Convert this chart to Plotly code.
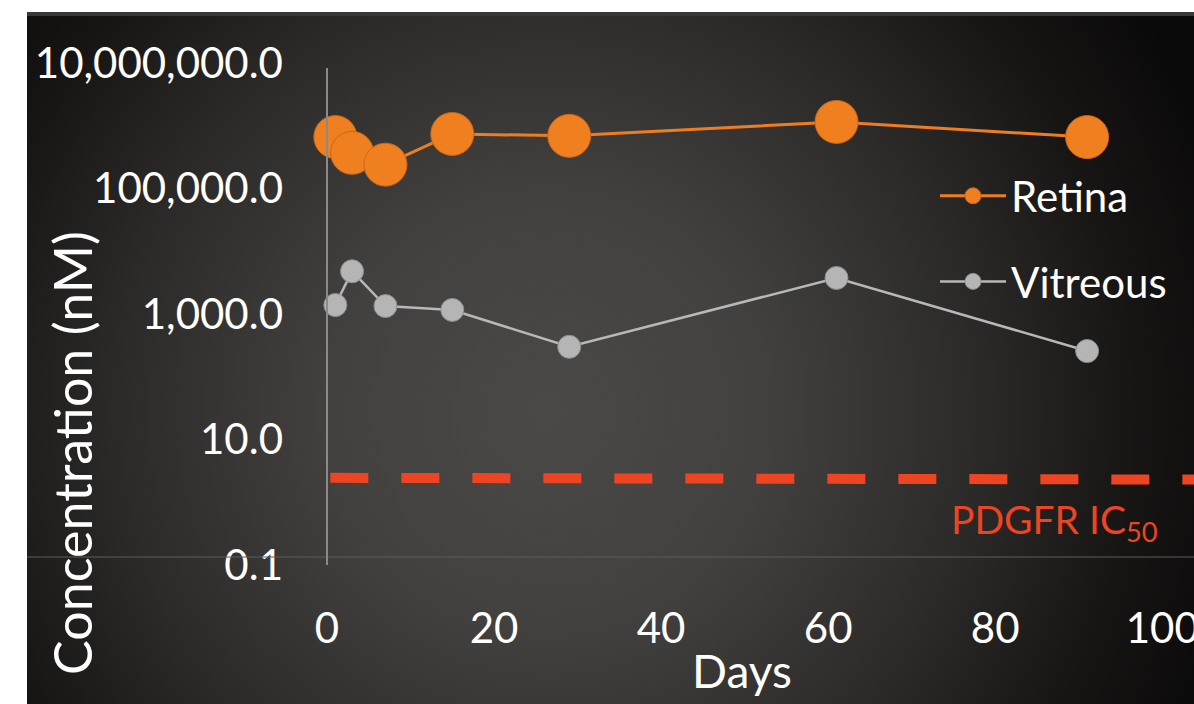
import base64
import plotly.graph_objects as go

# ---- data ----
days = [1, 3, 7, 15, 29, 61, 91]
retina_nM = [6.6e5, 3.7e5, 2.4e5, 7.4e5, 6.9e5, 1.15e6, 6.6e5]
vitreous_nM = [1390, 4800, 1340, 1160, 300, 3750, 257]
ic50_days = [0.4, 104]
ic50_nM = [2.45, 2.3]

W, H = 1194, 704
L, R, T, B = 327, 0, 63, 139
pw, ph = W - L - R, H - T - B

FONT = "Lato"

# background gradient as an SVG image (decoration only)
svg = f"""<svg xmlns='http://www.w3.org/2000/svg' width='1167' height='692' viewBox='0 0 1167 692' preserveAspectRatio='none'>
<defs><radialGradient id='g' gradientUnits='userSpaceOnUse' cx='520' cy='400' r='720'>
<stop offset='0' stop-color='#4b4947'/>
<stop offset='0.3' stop-color='#43413f'/>
<stop offset='0.6' stop-color='#2c2a29'/>
<stop offset='0.82' stop-color='#171514'/>
<stop offset='1' stop-color='#0a0909'/>
</radialGradient></defs>
<rect x='0' y='0' width='1167' height='692' fill='url(#g)'/>
<rect x='0' y='0' width='1167' height='4' fill='#3a3938'/>
</svg>"""
src = "data:image/svg+xml;base64," + base64.b64encode(svg.encode()).decode()

fig = go.Figure()

fig.add_trace(go.Scatter(
    x=ic50_days, y=ic50_nM, mode="lines", showlegend=False, hoverinfo="skip",
    line=dict(color="#ee4422", width=10, dash="38px,33px"),
))
fig.add_trace(go.Scatter(
    x=days, y=retina_nM, name="Retina", mode="lines+markers",
    legendgroup="a",
    line=dict(color="#ef7d1f", width=3),
    marker=dict(size=43, color="#f0801f", line=dict(color="#c9661a", width=1)),
    cliponaxis=False,
))
fig.add_trace(go.Scatter(
    x=days, y=vitreous_nM, name="Vitreous", mode="lines+markers",
    legendgroup="b",
    line=dict(color="#b8b8b8", width=2.5),
    marker=dict(size=23, color="#b5b5b5", line=dict(color="#8e8e8e", width=1)),
    cliponaxis=False,
))

fig.update_layout(
    width=W, height=H,
    margin=dict(l=L, r=R, t=T, b=B, pad=0, autoexpand=False),
    paper_bgcolor="white",
    plot_bgcolor="rgba(0,0,0,0)",
    font=dict(family=FONT, color="white", size=42),
    showlegend=True,
    legend=dict(
        x=(935 - L) / pw, y=(565 - 162) / ph, xanchor="left", yanchor="top",
        bgcolor="rgba(0,0,0,0)", font=dict(family=FONT, size=42, color="white"),
        itemwidth=66, tracegroupgap=28, traceorder="grouped",
    ),
    images=[dict(
        source=src, xref="paper", yref="paper",
        x=(27 - L) / pw, y=(565 - 12) / ph,
        sizex=1167 / pw, sizey=692 / ph,
        xanchor="left", yanchor="top", sizing="stretch", layer="below",
    )],
    xaxis=dict(
        range=[0, 103.8], dtick=20, tick0=0, showgrid=False, zeroline=False,
        showline=False, ticks="", ticklabelstandoff=35, automargin=False,
        ticklabeloverflow="allow",
        tickfont=dict(family=FONT, size=42, color="white"),
    ),
    yaxis=dict(
        type="log", range=[-1, 7], dtick=2, tick0=-1, tickformat=",.1f",
        showgrid=False, zeroline=False, showline=False, ticks="",
        ticklabelstandoff=43, automargin=False, ticklabeloverflow="allow",
        tickfont=dict(family=FONT, size=42, color="white"),
    ),
    shapes=[
        dict(type="line", xref="paper", yref="paper",
             x0=(27 - L) / pw, x1=1.0, y0=(565 - 557) / ph, y1=(565 - 557) / ph,
             line=dict(color="#5e5c5a", width=1)),
        dict(type="line", xref="paper", yref="paper",
             x0=0, x1=0, y0=0, y1=(565 - 68) / ph,
             line=dict(color="#8a8a8a", width=2)),
    ],
    annotations=[
        dict(text="PDGFR IC<sub>50</sub>", xref="paper", yref="paper",
             x=(1160 - L) / pw, y=(565 - 522) / ph, xanchor="right", yanchor="middle",
             showarrow=False, font=dict(family=FONT, size=39, color="#ee4422")),
        dict(text="Concentration (nM)", xref="paper", yref="paper", textangle=-90,
             x=(72 - L) / pw, y=(565 - 453) / ph, xanchor="center", yanchor="middle",
             showarrow=False, font=dict(family=FONT, size=52, color="white")),
        dict(text="Days", xref="paper", yref="paper",
             x=(742 - L) / pw, y=(565 - 670) / ph, xanchor="center", yanchor="middle",
             showarrow=False, font=dict(family=FONT, size=46, color="white")),
    ],
)

fig.write_html(
    "out.html",
    config={"displayModeBar": False},
    post_script="document.body.style.margin='0';document.body.style.overflow='hidden';",
)
